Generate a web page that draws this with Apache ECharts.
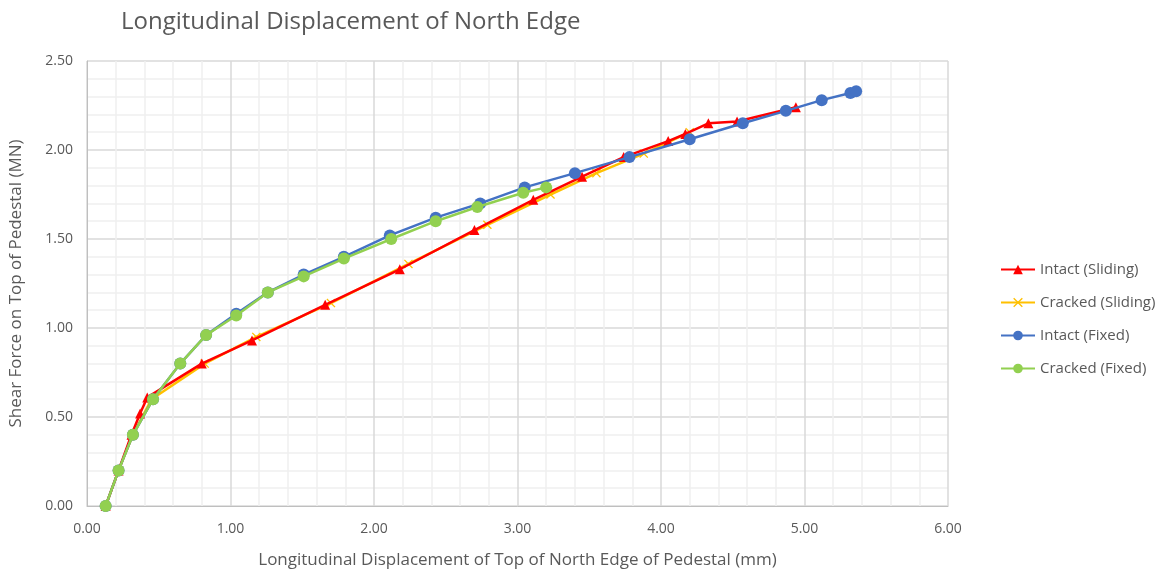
<!DOCTYPE html>
<html><head><meta charset="utf-8">
<script src="https://cdn.jsdelivr.net/npm/echarts@6/dist/echarts.min.js"></script>
<style>html,body{margin:0;padding:0;background:#fff}#c{width:1169px;height:574px}</style>
</head><body><div id="c"></div>
<script>
const seriesNames = ["Intact (Sliding)", "Cracked (Sliding)", "Intact (Fixed)", "Cracked (Fixed)"];
const intactSlidingX = [0.13, 0.22, 0.31, 0.37, 0.42, 0.80, 1.15, 1.66, 2.18, 2.70, 3.11, 3.45, 3.74, 4.05, 4.17, 4.33, 4.53, 4.94];
const intactSlidingY = [0.00, 0.20, 0.40, 0.52, 0.61, 0.80, 0.93, 1.13, 1.33, 1.55, 1.72, 1.85, 1.96, 2.05, 2.09, 2.15, 2.16, 2.24];
const crackedSlidingX = [0.13, 0.22, 0.32, 0.45, 0.82, 1.18, 1.70, 2.24, 2.79, 3.23, 3.55, 3.88, 4.20];
const crackedSlidingY = [0.00, 0.20, 0.40, 0.60, 0.80, 0.95, 1.14, 1.36, 1.58, 1.75, 1.87, 1.98, 2.10];
const intactFixedX = [0.13, 0.22, 0.32, 0.46, 0.65, 0.83, 1.04, 1.26, 1.51, 1.79, 2.11, 2.43, 2.74, 3.05, 3.40, 3.78, 4.20, 4.57, 4.87, 5.12, 5.32, 5.36];
const intactFixedY = [0.00, 0.20, 0.40, 0.60, 0.80, 0.96, 1.08, 1.20, 1.30, 1.40, 1.52, 1.62, 1.70, 1.79, 1.87, 1.96, 2.06, 2.15, 2.22, 2.28, 2.32, 2.33];
const crackedFixedX = [0.13, 0.22, 0.32, 0.46, 0.65, 0.83, 1.04, 1.26, 1.51, 1.79, 2.12, 2.43, 2.72, 3.04, 3.20];
const crackedFixedY = [0.00, 0.20, 0.40, 0.60, 0.80, 0.96, 1.07, 1.20, 1.29, 1.39, 1.50, 1.60, 1.68, 1.76, 1.79];
const titleText = "Longitudinal Displacement of North Edge";
const xName = "Longitudinal Displacement of Top of North Edge of Pedestal (mm)";
const yName = "Shear Force on Top of Pedestal (MN)";

const zip = (xs, ys) => xs.map((x, i) => [x, ys[i]]);
const xPath = 'path://M0,1L1,0L5,4L9,0L10,1L6,5L10,9L9,10L5,6L1,10L0,9L4,5Z';
const font = '"Open Sans", "Liberation Sans", sans-serif';
const chart = echarts.init(document.getElementById('c'));
chart.setOption({
  animation: false,
  backgroundColor: '#fff',
  textStyle: {fontFamily: font},
  title: {text: titleText, left: 116, top: 5, textStyle: {fontFamily: font, fontSize: 24, fontWeight: 'normal', color: '#595959'}},
  grid: {left: 87, right: 221, top: 61, bottom: 67},
  legend: {
    orient: 'vertical', left: 995, top: 257, itemGap: 18, itemWidth: 34, itemHeight: 12,
    textStyle: {fontFamily: font, fontSize: 15, color: '#595959'},
    data: seriesNames
  },
  xAxis: {
    type: 'value', min: 0, max: 6, interval: 1,
    name: xName, nameLocation: 'middle', nameGap: 46,
    nameTextStyle: {fontFamily: font, fontSize: 17, color: '#595959'},
    axisLine: {show: true, lineStyle: {color: '#bfbfbf'}},
    axisTick: {show: false},
    axisLabel: {formatter: v => v.toFixed(2), color: '#595959', fontSize: 14, margin: 16},
    splitLine: {show: true, lineStyle: {color: '#d9d9d9', width: 1.5}},
    minorSplitLine: {show: true, lineStyle: {color: '#efefef', width: 1.5}},
    minorTick: {show: false, splitNumber: 5}
  },
  yAxis: {
    type: 'value', min: 0, max: 2.5, interval: 0.5,
    name: yName, nameLocation: 'middle', nameGap: 62,
    nameTextStyle: {fontFamily: font, fontSize: 17, color: '#595959'},
    axisLine: {show: true, lineStyle: {color: '#bfbfbf'}},
    axisTick: {show: false},
    axisLabel: {formatter: v => v.toFixed(2), color: '#595959', fontSize: 14, margin: 14},
    splitLine: {show: true, lineStyle: {color: '#d9d9d9', width: 1.5}},
    minorSplitLine: {show: true, lineStyle: {color: '#efefef', width: 1.5}},
    minorTick: {show: false, splitNumber: 5}
  },
  series: [
    {name: seriesNames[1], type: 'line', data: zip(crackedSlidingX, crackedSlidingY), symbol: xPath, symbolSize: 9,
     lineStyle: {color: '#FFC000', width: 2.5}, itemStyle: {color: '#FFC000'}, z: 2},
    {name: seriesNames[0], type: 'line', data: zip(intactSlidingX, intactSlidingY), symbol: 'triangle', symbolSize: 10,
     lineStyle: {color: '#FF0000', width: 2.5}, itemStyle: {color: '#FF0000'}, z: 3},
    {name: seriesNames[2], type: 'line', data: zip(intactFixedX, intactFixedY), symbol: 'circle', symbolSize: 12,
     lineStyle: {color: '#4472C4', width: 2.5}, itemStyle: {color: '#4472C4'}, z: 4},
    {name: seriesNames[3], type: 'line', data: zip(crackedFixedX, crackedFixedY), symbol: 'circle', symbolSize: 12,
     lineStyle: {color: '#92D050', width: 2.5}, itemStyle: {color: '#92D050'}, z: 5}
  ]
});
</script></body></html>
